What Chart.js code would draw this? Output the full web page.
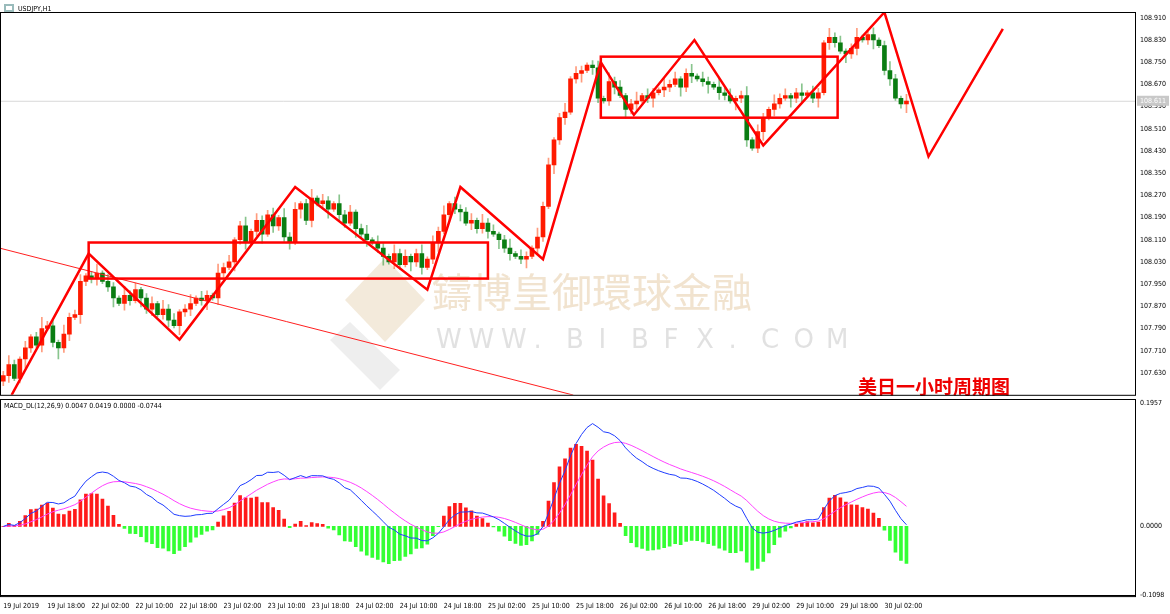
<!DOCTYPE html>
<html><head><meta charset="utf-8">
<script src="https://cdn.jsdelivr.net/npm/chart.js@4.4.0/dist/chart.umd.min.js"></script>
<style>
html,body{margin:0;padding:0;background:#fff;overflow:hidden}
#wrap{position:relative;width:1170px;height:614px;font-family:"DejaVu Sans",sans-serif}
#c1{position:absolute;left:0;top:0}
#c2{position:absolute;left:0;top:398px}
</style></head><body>
<div id="wrap"><canvas id="c1" width="1170" height="400"></canvas><canvas id="c2" width="1170" height="216"></canvas></div>
<script>
const closes=[107.62,107.66,107.61,107.68,107.72,107.76,107.73,107.79,107.80,107.74,107.72,107.77,107.83,107.84,
107.96,107.98,107.97,107.99,107.96,107.94,107.90,107.88,107.91,107.89,107.93,107.90,107.86,107.88,107.84,107.86,107.82,107.80,107.85,107.86,107.88,107.90,107.89,107.91,107.90,
107.99,108.01,108.03,108.11,108.16,108.10,
108.14,108.18,108.13,108.20,108.16,108.19,108.12,108.10,108.22,108.24,108.18,108.26,108.24,108.25,108.22,108.24,108.20,108.17,108.21,108.15,108.13,108.11,108.10,108.08,
108.05,108.03,108.06,108.02,108.05,108.03,108.06,108.01,
108.04,108.10,108.14,108.20,108.24,108.22,108.21,108.17,108.18,108.15,108.17,108.14,108.13,108.11,108.08,108.06,108.05,108.04,
108.05,108.08,108.12,108.23,108.38,
108.47,108.55,108.57,108.69,108.71,108.72,108.74,108.73,
108.62,108.61,108.68,108.66,108.63,108.58,108.60,108.61,108.63,108.62,108.64,108.65,108.66,108.67,
108.69,108.66,108.71,108.70,108.69,108.68,108.67,108.66,108.64,108.63,108.61,108.62,108.63,
108.47,108.44,108.50,108.55,108.58,108.60,108.62,108.63,108.62,108.64,108.63,108.64,108.62,108.64,
108.82,108.84,108.82,108.79,108.78,108.80,108.84,108.83,108.85,108.83,
108.81,108.72,108.69,108.62,108.60,108.61];
const firstOpen=107.60;
const wickDigits="2312421312523142231241321423123142312413214231241322314231241321423124132142312413241322314231241321423124132123142312413214231241321423124132142312413214231241";
const priceTicks=[108.910,108.830,108.750,108.670,108.590,108.510,108.430,108.350,108.270,108.190,108.110,108.030,107.950,107.870,107.790,107.710,107.630];
const macdTicks=[0.1957,0.0000,-0.1098];
const timeLabels=["19 Jul 2019","19 Jul 18:00","22 Jul 02:00","22 Jul 10:00","22 Jul 18:00","23 Jul 02:00","23 Jul 10:00","23 Jul 18:00","24 Jul 02:00","24 Jul 10:00","24 Jul 18:00","25 Jul 02:00","25 Jul 10:00","25 Jul 18:00","26 Jul 02:00","26 Jul 10:00","26 Jul 18:00","29 Jul 02:00","29 Jul 10:00","29 Jul 18:00","30 Jul 02:00"];
const bidPrice=108.611;
const zigzag=[[1.5,107.55],[15.5,108.06],[32,107.75],[53,108.30],[77,107.93],[83,108.30],[98,108.04],[108.5,108.75],[114.5,108.56],[125.5,108.83],[138,108.45],[160,108.93],[168,108.41],[181.5,108.87]];
const boxes=[[15.5,108.10,88,107.97],[108.5,108.77,151.5,108.55]];
const trendLine=[[-0.7,108.08],[103.5,107.55]];

const XMIN=-0.6, XMAX=205.5;
const opens=closes.map((c,i)=>i===0?firstOpen:closes[i-1]);
const wick=wickDigits.split('').map(Number);
const W=i=>wick[i%wick.length];
const body=closes.map((c,i)=>({x:i,y:[opens[i],c]}));
const hl=closes.map((c,i)=>({x:i,y:[Math.min(opens[i],c)-W(i)*0.008,Math.max(opens[i],c)+W(i+3)*0.008]}));
const upCol=closes.map((c,i)=>c>=opens[i]?'#ff1a00':'#0a7d12');
const wickCol=closes.map((c,i)=>c>=opens[i]?'rgba(255,90,40,0.6)':'rgba(20,140,30,0.5)');
function ema(a,n){const k=2/(n+1);let r=[],p=a[0];a.forEach(v=>{p=v*k+p*(1-k);r.push(p);});return r;}
const e12=ema(closes,12),e26=ema(closes,26);
const dif=e12.map((v,i)=>v-e26[i]);
const dea=ema(dif,9);
const hist=dif.map((v,i)=>2*(v-dea[i]));
const xTicks=timeLabels.map((t,i)=>i*8);
const SF='7px "DejaVu Sans Condensed","DejaVu Sans"';

const overlay={id:'ov',
beforeDatasetsDraw(ch){const c=ch.ctx,a=ch.chartArea;c.save();
 c.fillStyle='rgba(228,208,175,0.45)';c.beginPath();c.moveTo(385,258);c.lineTo(425,300);c.lineTo(385,342);c.lineTo(345,300);c.closePath();c.fill();
 c.fillStyle='rgba(205,205,205,0.35)';c.beginPath();c.moveTo(330,340);c.lineTo(380,390);c.lineTo(400,370);c.lineTo(350,322);c.closePath();c.fill();
 c.font='40px "Noto Sans CJK TC"';c.fillStyle='rgba(228,200,160,0.5)';c.textBaseline='middle';
 c.fillText('鑄博皇御環球金融',432,292);
 c.font='26px "DejaVu Sans"';c.fillStyle='rgba(200,200,200,0.55)';
 const s='WWW.BIBFX.COM';for(let i=0;i<s.length;i++)c.fillText(s[i],436+i*32.5,341);
 const yb=ch.scales.y.getPixelForValue(bidPrice);c.strokeStyle='#d8d8d8';c.lineWidth=1;c.beginPath();c.moveTo(a.left,yb+0.5);c.lineTo(a.right,yb+0.5);c.stroke();
 c.restore();},
afterDatasetsDraw(ch){const c=ch.ctx,a=ch.chartArea,X=ch.scales.x,Y=ch.scales.y;c.save();
 c.beginPath();c.rect(a.left,a.top,a.right-a.left,a.bottom-a.top);c.clip();
 c.strokeStyle='#ff2020';c.lineWidth=1;c.beginPath();c.moveTo(X.getPixelForValue(trendLine[0][0]),Y.getPixelForValue(trendLine[0][1]));c.lineTo(X.getPixelForValue(trendLine[1][0]),Y.getPixelForValue(trendLine[1][1]));c.stroke();
 c.strokeStyle='#ff0000';c.lineWidth=2.5;c.beginPath();zigzag.forEach((p,i)=>{const x=X.getPixelForValue(p[0]),y=Y.getPixelForValue(p[1]);i?c.lineTo(x,y):c.moveTo(x,y);});c.stroke();
 boxes.forEach(b=>{const x1=X.getPixelForValue(b[0]),y1=Y.getPixelForValue(b[1]),x2=X.getPixelForValue(b[2]),y2=Y.getPixelForValue(b[3]);c.strokeRect(x1,y1,x2-x1,y2-y1);});
 c.restore();c.save();
 c.font='bold 19px "Noto Sans CJK SC"';c.fillStyle='#ee0000';c.textBaseline='middle';c.fillText('美日一小时周期图',858,387);
 c.font=SF;c.fillStyle='#000';c.fillText('USDJPY,H1',18,9);
 c.fillStyle='#9bb';c.fillRect(4,4,10,8);c.fillStyle='#fff';c.fillRect(6,6,6,4);
 c.strokeStyle='#000';c.lineWidth=1;c.strokeRect(0.5,a.top+0.5,a.right,a.bottom-a.top);
 const yb=Y.getPixelForValue(bidPrice);c.fillStyle='#c8c8c8';c.fillRect(a.right+2,yb-5,32,10);c.fillStyle='#fff';c.font=SF;c.fillText('108.611',a.right+5,yb);
 c.restore();}};

const macdOv={id:'mo',afterDatasetsDraw(ch){const c=ch.ctx,a=ch.chartArea;c.save();
 c.font=SF;c.fillStyle='#000';c.textBaseline='middle';
 c.fillText('MACD_DL(12,26,9) 0.0047 0.0419 0.0000 -0.0744',4,8);
 c.strokeStyle='#000';c.lineWidth=1;c.strokeRect(0.5,1.5,a.right,a.bottom-0.5);
 c.restore();}};

const tickFont={size:7,family:'"DejaVu Sans Condensed","DejaVu Sans"'};
const yAxisCommon={position:'right',grid:{display:false,drawTicks:true,tickLength:4,color:'#000'},border:{color:'#000'},ticks:{font:tickFont,color:'#000',padding:1,autoSkip:false},afterFit(s){s.width=35;}};

new Chart(document.getElementById('c1'),{type:'bar',
data:{datasets:[
 {data:hl,backgroundColor:wickCol,barThickness:1,grouped:false,order:2},
 {data:body,backgroundColor:upCol,barThickness:4,grouped:false,order:1}]},
options:{responsive:false,animation:false,events:[],layout:{padding:{top:12,left:0,right:0,bottom:0}},
 plugins:{legend:{display:false},tooltip:{enabled:false}},
 scales:{x:{type:'linear',min:XMIN,max:XMAX,display:false,offset:false},
  y:{...yAxisCommon,min:107.551,max:108.931,afterBuildTicks(s){s.ticks=priceTicks.map(v=>({value:v}));},ticks:{...yAxisCommon.ticks,callback:v=>v.toFixed(3)}}}},
plugins:[overlay]});

new Chart(document.getElementById('c2'),{type:'bar',
data:{datasets:[
 {type:'line',data:dif.map((v,i)=>({x:i,y:v})),borderColor:'#1e3cff',borderWidth:1,pointRadius:0,order:1},
 {type:'line',data:dea.map((v,i)=>({x:i,y:v})),borderColor:'#ff40ff',borderWidth:1,pointRadius:0,order:1},
 {data:hist.map((v,i)=>({x:i,y:v})),backgroundColor:hist.map(v=>v>=0?'#ff1a1a':'#33ff33'),barThickness:3,order:2}]},
options:{responsive:false,animation:false,events:[],layout:{padding:{top:5,left:0,right:0,bottom:2}},
 plugins:{legend:{display:false},tooltip:{enabled:false}},
 scales:{x:{type:'linear',min:XMIN,max:XMAX,offset:false,grid:{display:false,drawTicks:true,tickLength:4,color:'#000'},border:{color:'#000'},
   afterBuildTicks(s){s.ticks=xTicks.map(v=>({value:v}));},
   ticks:{autoSkip:false,maxRotation:0,align:'start',font:tickFont,color:'#000',padding:2,callback:(v)=>timeLabels[Math.round(v/8)]}},
  y:{...yAxisCommon,min:-0.1098,max:0.1957,afterBuildTicks(s){s.ticks=macdTicks.map(v=>({value:v}));},ticks:{...yAxisCommon.ticks,callback:v=>v.toFixed(4)}}}},
plugins:[macdOv]});
</script></body></html>
